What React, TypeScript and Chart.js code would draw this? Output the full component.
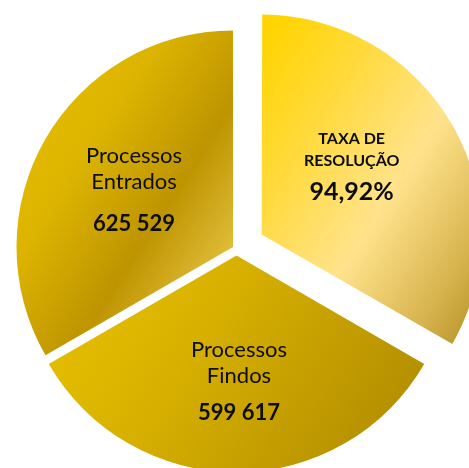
import React, { useEffect, useRef } from "react";
import { Chart, registerables } from "chart.js";

Chart.register(...registerables);

// ---- data ----
const categories = ["TAXA DE RESOLUÇÃO", "Processos Findos", "Processos Entrados"];
const sliceWeights = [1, 1, 1];
const nameLines = [["TAXA DE", "RESOLUÇÃO"], ["Processos", "Findos"], ["Processos", "Entrados"]];
const valueLabels = ["94,92%", "599 617", "625 529"];

// ---- style ----
const W = 469;
const H = 468;
const RADIUS = 216;
const OFFSETS = [116, 26, 16];
const FALLBACK = ["#FFD84A", "#CFA600", "#D2A800"];
const GRADIENT_ANGLE = (33 * Math.PI) / 180;
const GRADIENT_STOPS: [number, string][][] = [
  [
    [0, "#FFD400"],
    [0.25, "#FFDA3C"],
    [0.53, "#FFE38C"],
    [0.8, "#D6B24C"],
    [1, "#A7851A"],
  ],
  [
    [0, "#E9C200"],
    [0.35, "#D9B200"],
    [1, "#AC8700"],
  ],
  [
    [0, "#E9C100"],
    [0.35, "#DDB500"],
    [0.63, "#BE9400"],
    [0.85, "#E0BD3A"],
    [1, "#EACD5C"],
  ],
];
const LABEL_DIST = [133, 132, 118.3];
const LABEL_DX = [0, 2.5, 0];
const LABEL_DY = [-16.5, 0, 0];
const LINE_DY = [
  [-22, -0.3, 34],
  [-23.7, 1.7, 39],
  [-27, -1, 40.7],
];
const NAME_FONTS = ["bold 16px Lato", "22px Lato", "22px Lato"];
const VALUE_FONTS = ["bold 25px Lato", "bold 22px Lato", "bold 22px Lato"];

function sliceAngles(i: number) {
  const total = sliceWeights.reduce((a, b) => a + b, 0);
  let a0 = -Math.PI / 2;
  for (let j = 0; j < i; j++) a0 += (sliceWeights[j] / total) * Math.PI * 2;
  const a1 = a0 + (sliceWeights[i] / total) * Math.PI * 2;
  return [a0, a1];
}

function sliceGradient(context: any) {
  const i = context.dataIndex;
  const chart = context.chart;
  const ca = chart.chartArea;
  if (!ca || i === undefined) return FALLBACK[i ?? 0];
  const cx = (ca.left + ca.right) / 2;
  const cy = (ca.top + ca.bottom) / 2;
  const [a0, a1] = sliceAngles(i);
  const mid = (a0 + a1) / 2;
  const t = OFFSETS[i] / 4;
  const ox = cx + Math.cos(mid) * t;
  const oy = cy + Math.sin(mid) * t;
  const r = RADIUS + t * (1 - Math.sin(Math.min(Math.PI, a1 - a0)));
  const pts: [number, number][] = [[ox, oy]];
  const addAng = (a: number) => pts.push([ox + Math.cos(a) * r, oy + Math.sin(a) * r]);
  addAng(a0);
  addAng(a1);
  for (let k = -4; k <= 8; k++) {
    const a = (k * Math.PI) / 2;
    if (a > a0 && a < a1) addAng(a);
  }
  const xs = pts.map((p) => p[0]);
  const ys = pts.map((p) => p[1]);
  const minX = Math.min(...xs), maxX = Math.max(...xs);
  const minY = Math.min(...ys), maxY = Math.max(...ys);
  const mx = (minX + maxX) / 2, my = (minY + maxY) / 2;
  const ux = Math.cos(GRADIENT_ANGLE), uy = Math.sin(GRADIENT_ANGLE);
  const h = ((maxX - minX) / 2) * Math.abs(ux) + ((maxY - minY) / 2) * Math.abs(uy);
  const g = chart.ctx.createLinearGradient(mx - ux * h, my - uy * h, mx + ux * h, my + uy * h);
  for (const [s, c] of GRADIENT_STOPS[i]) g.addColorStop(s, c);
  return g;
}

const labelPlugin = {
  id: "sliceLabels",
  afterDatasetsDraw(chart: any) {
    const meta = chart.getDatasetMeta(0);
    const ctx = chart.ctx;
    ctx.save();
    ctx.textAlign = "center";
    ctx.textBaseline = "alphabetic";
    ctx.fillStyle = "#0d0d0d";
    meta.data.forEach((el: any, i: number) => {
      const mid = (el.startAngle + el.endAngle) / 2;
      const x = el.x + Math.cos(mid) * LABEL_DIST[i] + LABEL_DX[i];
      const y = el.y + Math.sin(mid) * LABEL_DIST[i] + LABEL_DY[i];
      const lines = [...nameLines[i], valueLabels[i]];
      lines.forEach((txt, k) => {
        ctx.font = k < nameLines[i].length ? NAME_FONTS[i] : VALUE_FONTS[i];
        ctx.fillText(txt, x, y + LINE_DY[i][k]);
      });
    });
    ctx.restore();
  },
};

export default function App() {
  const ref = useRef<HTMLCanvasElement | null>(null);
  useEffect(() => {
    document.body.style.margin = "0";
    if (!ref.current) return;
    const chart = new Chart(ref.current, {
      type: "pie",
      data: {
        labels: categories,
        datasets: [
          {
            data: sliceWeights,
            backgroundColor: sliceGradient as any,
            borderWidth: 0,
            offset: OFFSETS,
            radius: RADIUS,
            clip: false,
          } as any,
        ],
      },
      options: {
        responsive: false,
        animation: false,
        layout: { padding: { left: 4, right: 0, top: 30, bottom: 0 } },
        plugins: { legend: { display: false }, tooltip: { enabled: false } },
        events: [],
      },
      plugins: [labelPlugin],
    });
    return () => chart.destroy();
  }, []);
  return (
    <div style={{ width: W, height: H, background: "#fff" }}>
      <canvas ref={ref} width={W} height={H} style={{ display: "block" }} />
    </div>
  );
}
